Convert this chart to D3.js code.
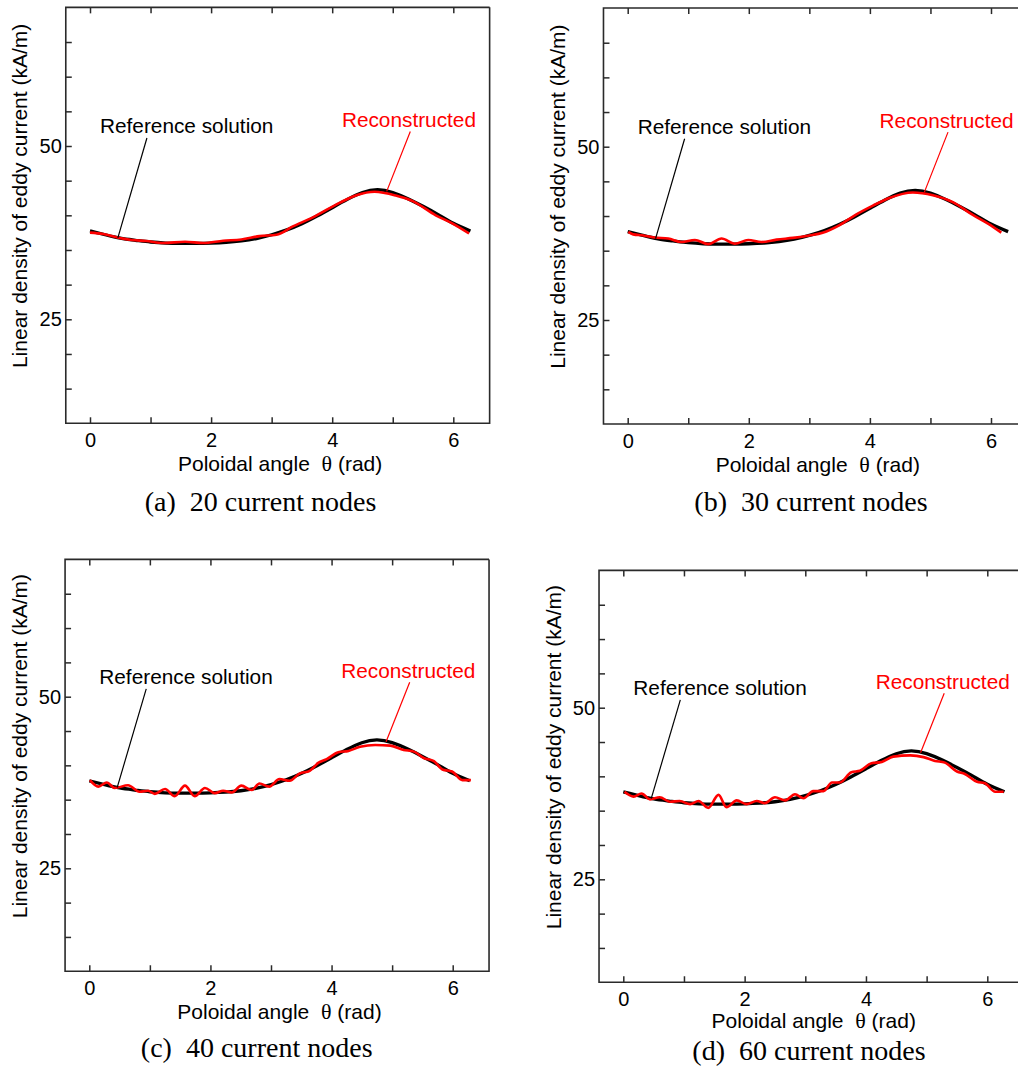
<!DOCTYPE html>
<html><head><meta charset="utf-8">
<script src="https://cdn.jsdelivr.net/npm/d3@7"></script>
<style>body{margin:0;background:#fff}svg{display:block}</style>
</head><body><svg id="c" width="1018" height="1077"></svg>
<script>
// ---------- data ----------
const refTheta = [0, 0.25, 0.5, 0.75, 1.0, 1.25, 1.5, 1.75, 2.0, 2.25, 2.5, 2.75, 3.0, 3.25, 3.5, 3.75, 4.0, 4.25, 4.5, 4.75, 5.0, 5.25, 5.5, 5.75, 6.0, 6.283];
const refValue = [37.75, 37.2, 36.7, 36.4, 36.15, 36.0, 35.95, 35.95, 36.0, 36.1, 36.3, 36.65, 37.2, 37.9, 38.8, 39.9, 41.1, 42.3, 43.3, 43.7, 43.3, 42.4, 41.3, 40.1, 38.85, 37.75];

const recThetaA = [0.0, 0.22, 0.47, 0.69, 0.93, 1.21, 1.57, 1.87, 2.20, 2.50, 2.80, 3.08, 3.35, 3.68, 4.12, 4.40, 4.70, 5.05, 5.33, 5.71, 5.99, 6.26];
const recValueA = [37.5, 37.3, 36.76, 36.43, 36.29, 36.0, 36.19, 36.0, 36.33, 36.52, 37.0, 37.2, 38.4, 39.7, 41.8, 42.9, 43.4, 42.86, 42.05, 40.0, 38.81, 37.38];

const recThetaB = [0.01, 0.09, 0.26, 0.45, 0.67, 0.89, 1.11, 1.33, 1.55, 1.77, 1.99, 2.21, 2.46, 2.73, 3.0, 3.22, 3.50, 3.77, 4.05, 4.32, 4.71, 5.04, 5.37, 5.70, 5.95, 6.17];
const recValueB = [37.7, 37.35, 37.2, 36.9, 36.75, 36.25, 36.55, 35.95, 36.75, 36.0, 36.55, 36.25, 36.6, 36.85, 37.2, 37.6, 38.7, 40.2, 41.5, 42.6, 43.4, 43.0, 42.0, 40.15, 38.9, 37.6];

const recThetaC = [0.01, 0.15, 0.29, 0.42, 0.64, 0.83, 0.97, 1.08, 1.25, 1.41, 1.58, 1.74, 1.91, 2.07, 2.21, 2.35, 2.51, 2.68, 2.81, 2.97, 3.14, 3.31, 3.47, 3.64, 3.78, 3.92, 4.11, 4.28, 4.47, 4.72, 4.97, 5.19, 5.36, 5.52, 5.69, 5.83, 5.99, 6.16, 6.30];
const recValueC = [37.85, 36.9, 37.5, 36.7, 37.1, 36.15, 36.3, 35.85, 36.55, 35.5, 37.05, 35.5, 36.7, 35.95, 36.3, 36.05, 37.05, 36.4, 37.35, 36.9, 38.0, 37.75, 38.8, 39.2, 40.35, 40.9, 41.9, 42.1, 42.7, 42.96, 42.87, 42.25, 42.0, 41.07, 40.6, 39.4, 39.1, 37.85, 37.85];

const recThetaD = [0.02, 0.17, 0.30, 0.44, 0.60, 0.77, 0.93, 1.10, 1.24, 1.40, 1.57, 1.70, 1.87, 2.03, 2.20, 2.33, 2.50, 2.67, 2.83, 2.97, 3.13, 3.30, 3.44, 3.57, 3.76, 3.90, 4.09, 4.26, 4.45, 4.73, 4.95, 5.14, 5.30, 5.50, 5.63, 5.83, 5.96, 6.13, 6.27];
const recValueD = [37.75, 37.04, 37.5, 36.65, 36.95, 36.3, 36.4, 35.95, 36.4, 35.4, 37.3, 35.5, 36.5, 35.95, 36.4, 36.1, 36.95, 36.5, 37.4, 36.8, 37.85, 37.85, 39.1, 39.1, 40.6, 40.8, 41.9, 42.1, 42.87, 43.05, 42.8, 42.25, 42.0, 40.7, 40.35, 39.2, 39.0, 37.75, 37.75];

const xTickValues = [0, 1, 2, 3, 4, 5, 6];
const xTickLabels = ["0", "", "2", "", "4", "", "6"];
const yTickValues = [15, 20, 25, 30, 35, 40, 45, 50, 55, 60, 65];
const yTickLabels = ["", "", "25", "", "", "", "", "50", "", "", ""];
const captions = ["(a)  20 current nodes", "(b)  30 current nodes", "(c)  40 current nodes", "(d)  60 current nodes"];
const yTitle = "Linear density of eddy current (kA/m)";
const xTitleParts = ["Poloidal angle  ", "θ", " (rad)"];
const refLabel = "Reference solution";
const recLabel = "Reconstructed";

// ---------- layout ----------
const panels = [
  {x0: 90,    x6: 453.3, y50: 146,   y25: 319.3, cx: 260.5, cy: 511,  tOff: 48, th: recThetaA, val: recValueA},
  {x0: 627.7, x6: 991,   y50: 146.7, y25: 320,   cx: 811,   cy: 511,  tOff: 48, th: recThetaB, val: recValueB},
  {x0: 89.3,  x6: 452.7, y50: 696.7, y25: 868.3, cx: 256.7, cy: 1057, tOff: 48, th: recThetaC, val: recValueC},
  {x0: 623.3, x6: 987.3, y50: 707.7, y25: 879.3, cx: 809,   cy: 1060, tOff: 45.5, th: recThetaD, val: recValueD}
];

const svg = d3.select("#c");
const sans = "Liberation Sans, Arial, sans-serif";
const serif = "Liberation Serif, Times New Roman, serif";
const frameColor = "#2a2a2a";

panels.forEach((p, i) => {
  const x = d3.scaleLinear().domain([0, 6]).range([p.x0, p.x6]);
  const y = d3.scaleLinear().domain([25, 50]).range([p.y25, p.y50]);
  const g = svg.append("g");

  const L = x(-0.4), R = x(6.6), T = y(70), B = y(10);

  // axes (inward ticks)
  const ax = g.append("g").attr("transform", `translate(${L},0)`)
    .call(d3.axisLeft(y).tickValues(yTickValues).tickSizeInner(-6).tickSizeOuter(0).tickPadding(4)
      .tickFormat((d, k) => yTickLabels[k]));
  const bx = g.append("g").attr("transform", `translate(0,${B})`)
    .call(d3.axisBottom(x).tickValues(xTickValues).tickSizeInner(-6).tickSizeOuter(0).tickPadding(10)
      .tickFormat((d, k) => xTickLabels[k]));
  const tx = g.append("g").attr("transform", `translate(0,${T})`)
    .call(d3.axisTop(x).tickValues(xTickValues).tickSizeInner(-6).tickSizeOuter(0).tickFormat(""));
  [ax, bx, tx].forEach(a => {
    a.select(".domain").remove();
    a.selectAll("line").attr("stroke", frameColor).attr("stroke-width", 1.5);
    a.selectAll("text").attr("font-family", sans).attr("font-size", 20).attr("fill", "#000");
  });

  // frame
  g.append("path")
    .attr("d", `M${R},${T}H${L}V${B}H${R}` + (R < 1018 ? `V${T}` : ""))
    .attr("fill", "none").attr("stroke", frameColor).attr("stroke-width", 1.6);

  // curves
  const refData = refTheta.map((t, k) => [t, refValue[k]]);
  const recData = p.th.map((t, k) => [t, p.val[k]]);
  g.append("path").datum(refData)
    .attr("d", d3.line().x(d => x(d[0])).y(d => y(d[1])).curve(d3.curveNatural))
    .attr("fill", "none").attr("stroke", "#000").attr("stroke-width", 3.3);
  g.append("path").datum(recData)
    .attr("d", d3.line().x(d => x(d[0])).y(d => y(d[1])).curve(d3.curveMonotoneX))
    .attr("fill", "none").attr("stroke", "#ff0000").attr("stroke-width", 2.6);

  // annotations
  g.append("line").attr("x1", x(0.94)).attr("y1", y(51.15)).attr("x2", x(0.46)).attr("y2", y(36.75))
    .attr("stroke", "#000").attr("stroke-width", 1.2);
  g.append("line").attr("x1", x(5.29)).attr("y1", y(52.1)).attr("x2", x(4.9)).attr("y2", y(43.45))
    .attr("stroke", "#ff0000").attr("stroke-width", 1.2);
  g.append("text").attr("x", x(0.165)).attr("y", y(51.85)).text(refLabel)
    .attr("font-family", sans).attr("font-size", 20.8).attr("fill", "#000");
  g.append("text").attr("x", x(4.16)).attr("y", y(52.7)).text(recLabel)
    .attr("font-family", sans).attr("font-size", 20.8).attr("fill", "#ff0000");

  // axis titles
  const yt = y(42.8);
  g.append("text").attr("transform", `translate(${L - 38.5},${yt}) rotate(-90)`)
    .attr("text-anchor", "middle").attr("font-family", sans).attr("font-size", 21).text(yTitle);
  const xt = g.append("text").attr("x", x(3.14)).attr("y", B + p.tOff)
    .attr("text-anchor", "middle").attr("font-family", sans).attr("font-size", 21)
    .style("white-space", "pre");
  xt.append("tspan").text(xTitleParts[0]);
  xt.append("tspan").attr("font-family", serif).attr("font-size", 22).text(xTitleParts[1]);
  xt.append("tspan").text(xTitleParts[2]);

  // caption
  svg.append("text").attr("x", p.cx).attr("y", p.cy).attr("text-anchor", "middle")
    .attr("font-family", serif).attr("font-size", 28).style("white-space", "pre").text(captions[i]);
});
</script>
</body></html>
